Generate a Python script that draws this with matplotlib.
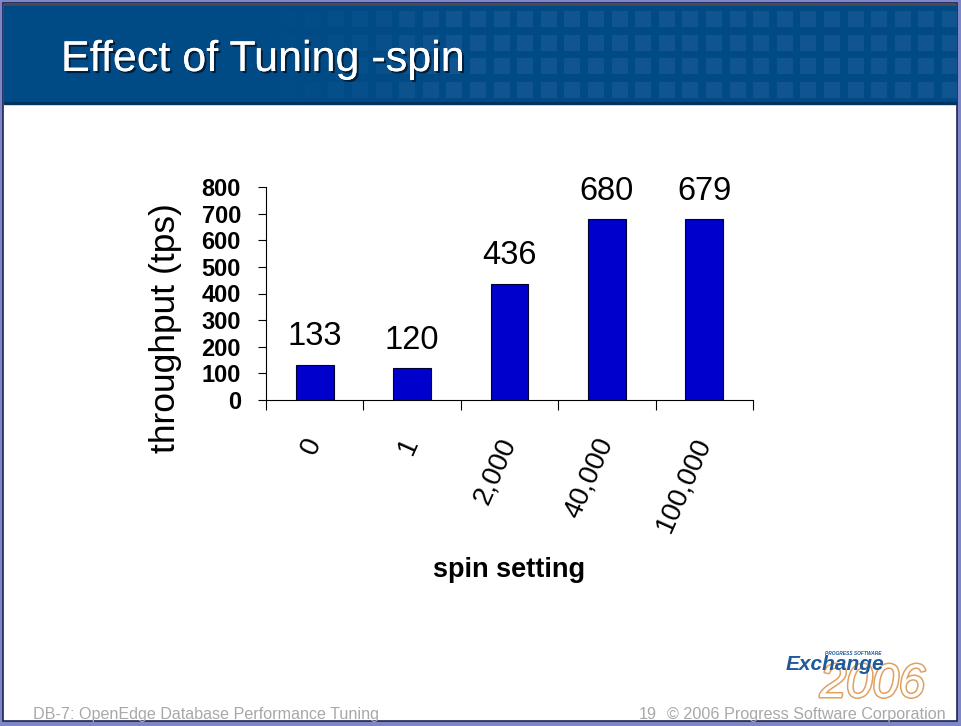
import matplotlib
matplotlib.use("Agg")
import matplotlib.pyplot as plt
import matplotlib.patches as mpatches
import matplotlib.patheffects as pe
import numpy as np

plt.rcParams['font.family'] = ['Liberation Sans', 'DejaVu Sans']

# data
spin_settings = ['0', '1', '2,000', '40,000', '100,000']
throughput = [133, 120, 436, 680, 679]
y_ticks = [0, 100, 200, 300, 400, 500, 600, 700, 800]

W, H = 962, 726
fig = plt.figure(figsize=(W / 100, H / 100), dpi=100)

# slide background / frame, drawn in pixel coords
bg = fig.add_axes([0, 0, 1, 1], zorder=-1)
bg.set_xlim(0, W)
bg.set_ylim(H, 0)
bg.axis('off')

bg.add_patch(mpatches.Rectangle((0, 0), W, H, color='#7d86c6'))
bg.add_patch(mpatches.Rectangle((3, 3), W - 8, H - 8, facecolor='white',
                                edgecolor='#1c2550', lw=1.2))
# title banner
bg.add_patch(mpatches.Rectangle((4, 4), W - 10, 2, color='#4a4a58'))
bg.add_patch(mpatches.Rectangle((4, 6), W - 10, 97, color='#004a85'))
bg.add_patch(mpatches.Rectangle((4, 102), W - 10, 2, color='#00335e'))
# square pattern on the banner
for col in range(34):
    x0 = 942 - col * 23.6
    a = float(np.clip((x0 - 260) / 200.0, 0, 1))
    if a <= 0:
        continue
    for y0 in (11, 35, 58, 82):
        w = min(16, 957 - x0)
        bg.add_patch(mpatches.Rectangle((x0, y0), w, 16, color='#1d5e98',
                                        alpha=0.6 * a, lw=0))

fig.text(61 / W, 1 - 71 / H, 'Effect of Tuning -spin', color='white',
         fontsize=31, va='baseline', ha='left',
         path_effects=[pe.withSimplePatchShadow(offset=(1.5, -1.5),
                                               shadow_rgbFace='#001a33',
                                               alpha=0.9),
                       pe.Normal()])

# footer
fig.text(33 / W, 1 - 719 / H, 'DB-7: OpenEdge Database Performance Tuning',
         color='#a8a8a8', fontsize=11.6, va='baseline')
fig.text(946 / W, 1 - 719 / H, '\u00a9 2006 Progress Software Corporation',
         color='#a8a8a8', fontsize=11.6, va='baseline', ha='right')
fig.text(657 / W, 1 - 719 / H, '19', color='#a8a8a8', fontsize=11.6,
         va='baseline', ha='right')

# logo
fig.text(925 / W, 1 - 697 / H, '2006', color='white', fontsize=34,
         style='italic', ha='right', va='baseline',
         path_effects=[pe.Stroke(linewidth=2.2, foreground='#e0a060'),
                       pe.Normal()])
fig.text(786 / W, 1 - 670 / H, 'Exchange', color='#1f5a9c', fontsize=15,
         style='italic', weight='bold', va='baseline', ha='left')
fig.text(882 / W, 1 - 655 / H, 'PROGRESS SOFTWARE', color='#1f5a9c',
         fontsize=3.5, style='italic', weight='bold', va='baseline', ha='right')

# chart
ax = fig.add_axes([266 / W, 1 - 400 / H, (753 - 266) / W, (400 - 187) / H])
x = np.arange(len(spin_settings))
bars = ax.bar(x, throughput, width=0.39, color='#0000cc', edgecolor='#000033',
              linewidth=0.8)

ax.set_xlim(-0.5, len(spin_settings) - 0.5)
ax.set_ylim(0, 800)
ax.set_yticks(y_ticks)
ax.set_yticklabels([str(v) for v in y_ticks], fontsize=17, weight='bold')
ax.tick_params(axis='y', direction='out', length=6, width=0.8, pad=12)

ax.set_xticks(np.arange(len(spin_settings) + 1) - 0.5)
ax.set_xticklabels([])
ax.tick_params(axis='x', which='major', direction='out', length=7, width=0.8)
ax.set_xticks(x, minor=True)
ax.set_xticklabels(spin_settings, minor=True, fontsize=20, rotation=66,
                   ha='right', va='center', rotation_mode='anchor')
ax.tick_params(axis='x', which='minor', length=0, pad=28)

for s in ('top', 'right'):
    ax.spines[s].set_visible(False)
for s in ('left', 'bottom'):
    ax.spines[s].set_linewidth(0.8)

for xi, v in zip(x, throughput):
    ax.annotate(str(v), (xi, v), xytext=(0, 14), textcoords='offset points',
                ha='center', va='baseline', fontsize=23.5)

ax.set_ylabel('throughput (tps)', fontsize=25.5)
ax.yaxis.set_label_coords((182 - 266) / 487, (400 - 328) / 213)
ax.set_xlabel('spin setting', fontsize=19.5, weight='bold')
ax.xaxis.set_label_coords(0.5, -(570 - 400) / 213)
ax.xaxis.label.set_va('center')

fig.savefig('out.png', dpi=100)
